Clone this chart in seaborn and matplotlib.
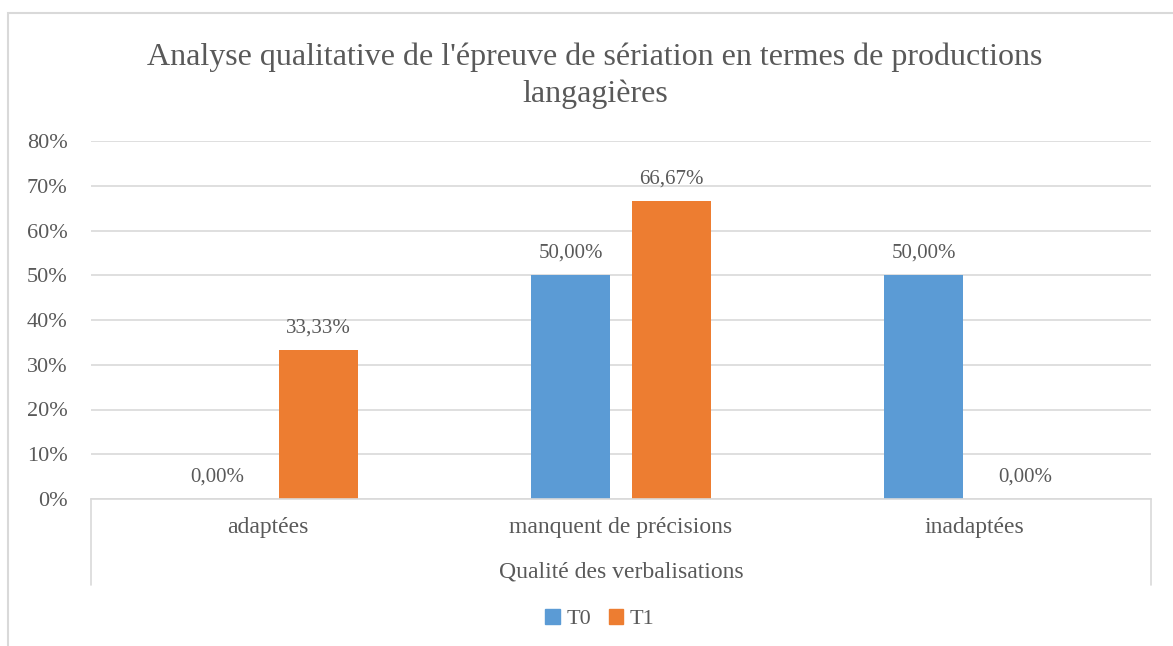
import pandas as pd
import seaborn as sns
import matplotlib.pyplot as plt
from matplotlib.patches import Rectangle, Patch
from matplotlib.ticker import PercentFormatter

# Data
categories = ['adaptées', 'manquent de précisions', 'inadaptées']
t0_values = [0.0, 50.0, 50.0]
t1_values = [33.33, 66.67, 0.0]
series = ['T0', 'T1']

blue = '#5B9BD5'
orange = '#ED7D31'
text_col = '#595959'
grid_col = '#D9D9D9'

df = pd.DataFrame({
    'cat': categories * 2,
    'val': [v / 100 for v in t0_values + t1_values],
    'serie': ['T0'] * 3 + ['T1'] * 3,
})

sns.set_style('white')
plt.rcParams['font.family'] = ['Liberation Serif', 'DejaVu Serif']
plt.rcParams['text.color'] = text_col

fig = plt.figure(figsize=(11.73, 6.46), dpi=100)
ax = fig.add_axes([91 / 1173, 1 - 499 / 646, 1060 / 1173, 358 / 646])

# outer chart border
fig.patches.append(Rectangle((8 / 1173, -0.1), 1.2, 1 - 13 / 646 + 0.1,
                             transform=fig.transFigure, fill=False,
                             edgecolor=grid_col, linewidth=1.5))

sns.barplot(data=df, x='cat', y='val', hue='serie', palette=[blue, orange],
            width=0.572, gap=0.217, ax=ax, legend=False, saturation=1,
            linewidth=0)

ax.set_xlim(-0.5, 2.5)
ax.set_ylim(0, 0.8)
ax.set_yticks([i / 10 for i in range(9)])
ax.yaxis.set_major_formatter(PercentFormatter(1.0, decimals=0))
ax.grid(axis='y', color=grid_col, linewidth=1.2)
ax.set_axisbelow(True)
for s in ['top', 'right', 'left']:
    ax.spines[s].set_visible(False)
ax.spines['bottom'].set_color(grid_col)
ax.spines['bottom'].set_linewidth(1.2)
ax.tick_params(axis='y', length=0, pad=17, labelsize=16, labelcolor=text_col)
ax.tick_params(axis='x', length=0, pad=13, labelsize=17, labelcolor=text_col)

# multi-level axis box lines
for xpos in [0, 1]:
    ax.plot([xpos, xpos], [0, -86 / 358], transform=ax.transAxes,
            color=grid_col, linewidth=1.2, clip_on=False)

ax.set_xlabel('Qualité des verbalisations', fontsize=17, color=text_col, labelpad=17)
ax.set_ylabel('')

for cont, vals in zip(ax.containers, [t0_values, t1_values]):
    labels = [f'{v:.2f}%'.replace('.', ',') for v in vals]
    ax.bar_label(cont, labels=labels, padding=9, fontsize=15, color=text_col)

fig.suptitle("Analyse qualitative de l'épreuve de sériation en termes de productions\nlangagières",
             x=595 / 1173, y=1 - 43 / 646, fontsize=23, color=text_col, linespacing=1.3)

handles = [Patch(color=blue, label='T0'), Patch(color=orange, label='T1')]
fig.legend(handles=handles, loc='center', bbox_to_anchor=(600 / 1173, 1 - 619 / 646),
           ncol=2, frameon=False, fontsize=16, handlelength=0.65, handleheight=0.65,
           handletextpad=0.3, columnspacing=0.8)

fig.savefig('out.png', dpi=100)
